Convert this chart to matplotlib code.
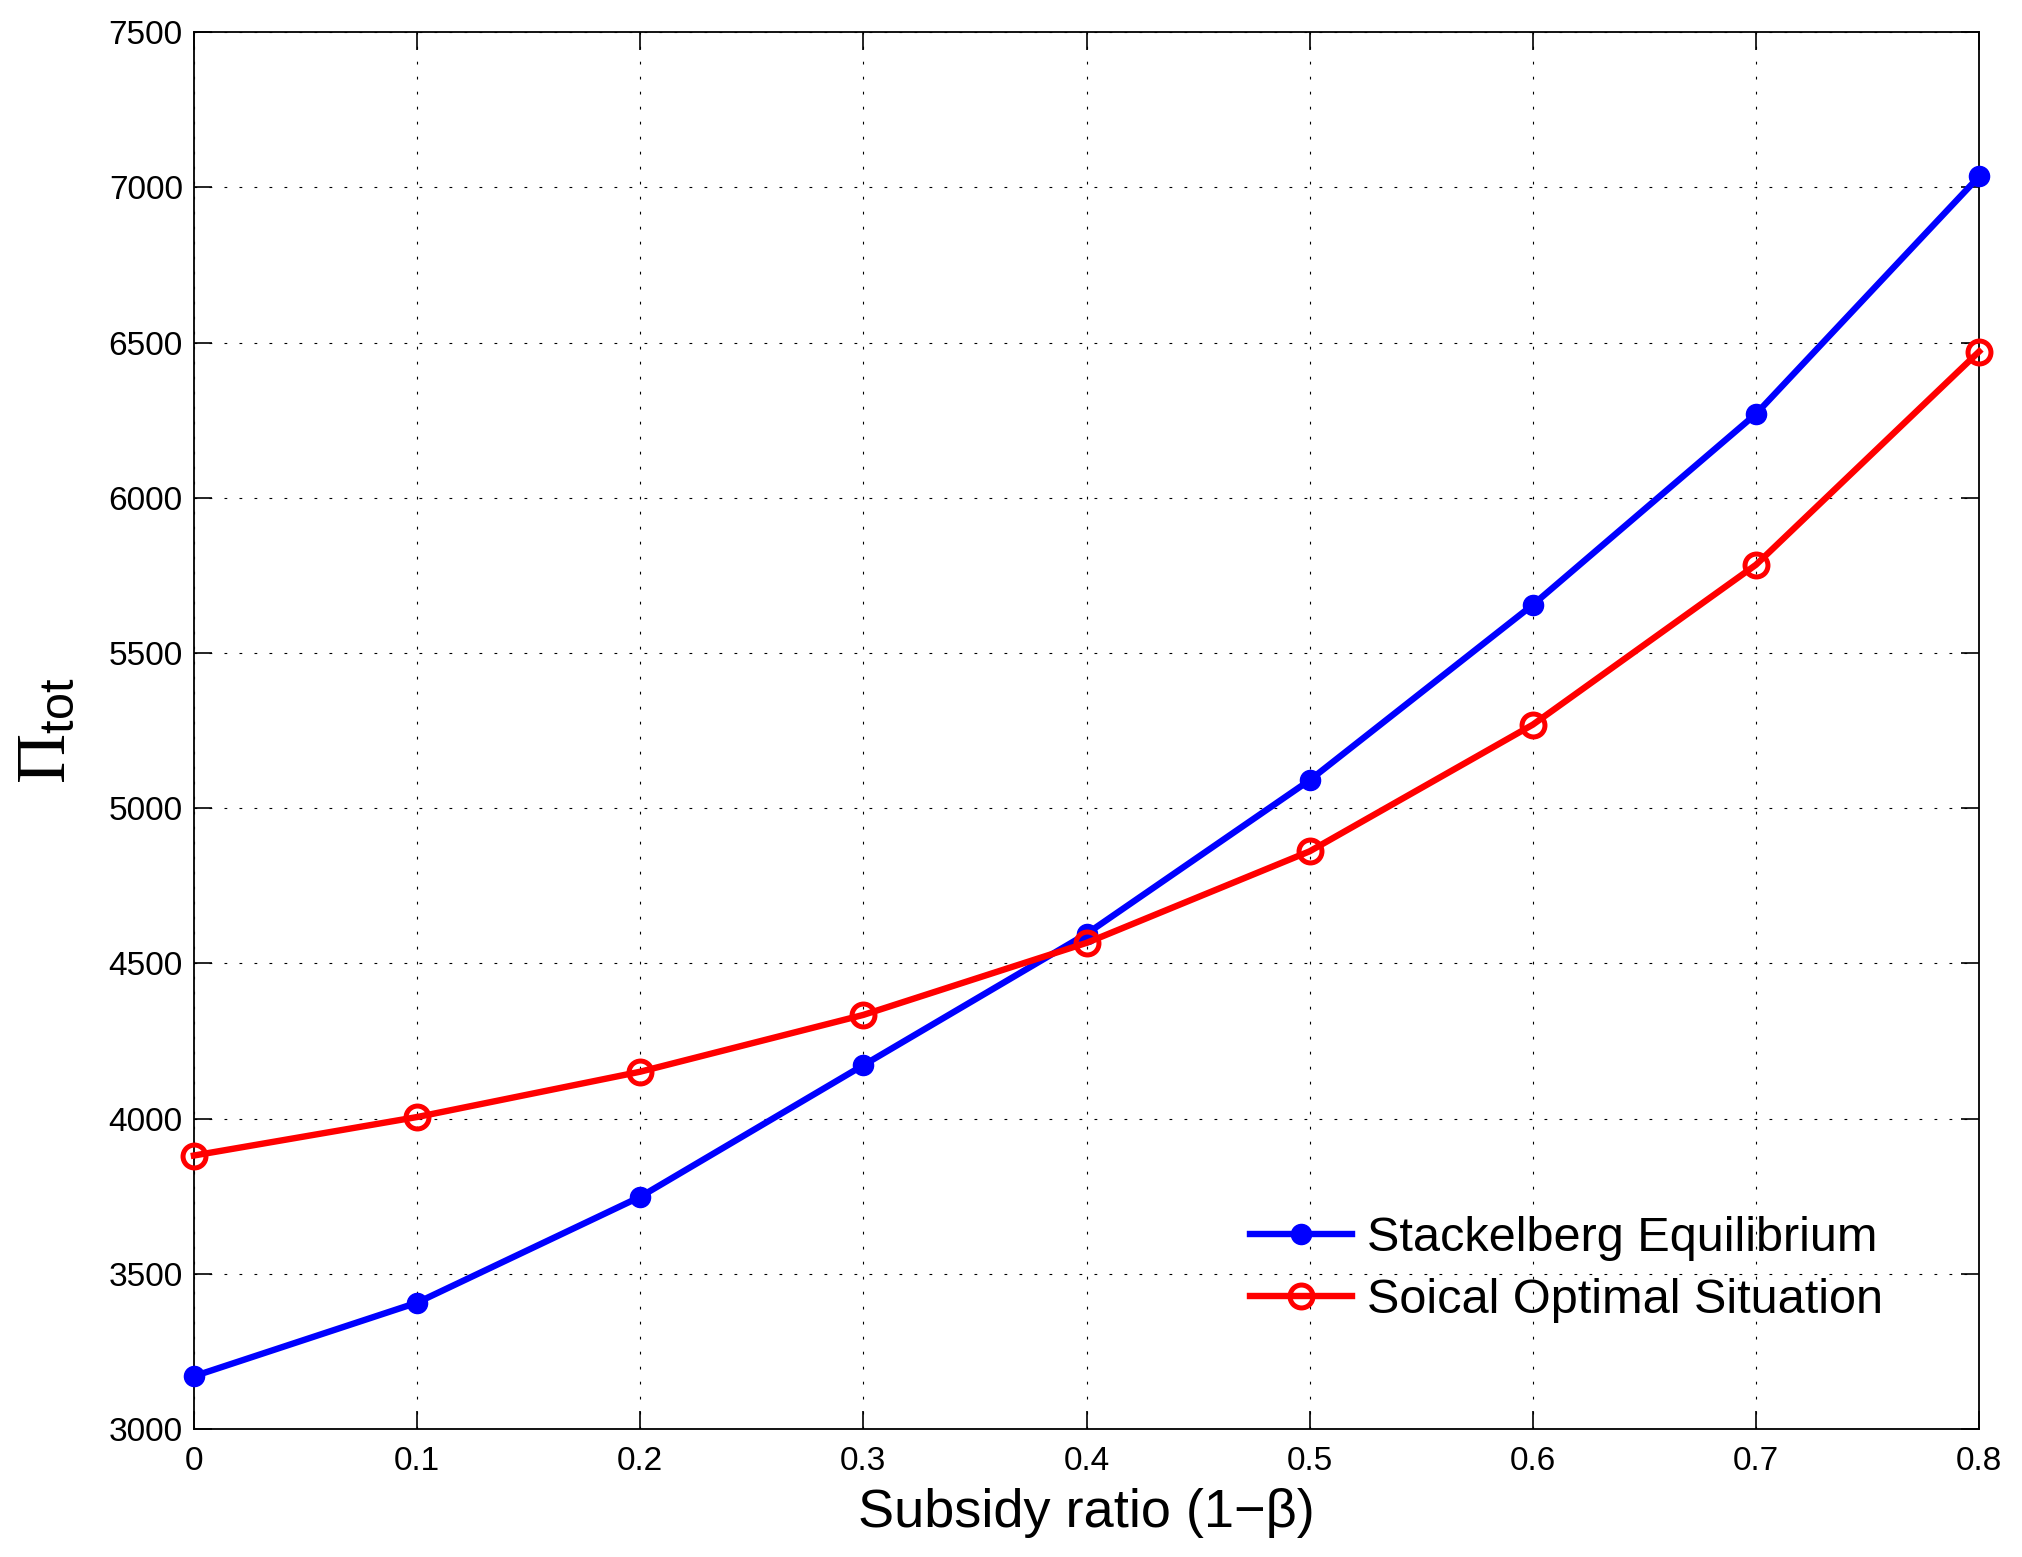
import matplotlib
matplotlib.use("Agg")
import matplotlib.pyplot as plt

subsidy_ratio = [0.0, 0.1, 0.2, 0.3, 0.4, 0.5, 0.6, 0.7, 0.8]
stackelberg = [3170, 3407, 3748, 4172, 4595, 5090, 5655, 6270, 7035]
social_opt = [3881, 4005, 4151, 4334, 4566, 4861, 5269, 5784, 6471]
labels = ["Stackelberg Equilibrium", "Soical Optimal Situation"]
xticks = [0, 0.1, 0.2, 0.3, 0.4, 0.5, 0.6, 0.7, 0.8]
xticklabels = ["0", "0.1", "0.2", "0.3", "0.4", "0.5", "0.6", "0.7", "0.8"]
yticks = [3000, 3500, 4000, 4500, 5000, 5500, 6000, 6500, 7000, 7500]

plt.rcParams['font.family'] = ['Liberation Sans', 'DejaVu Sans']
plt.rcParams['mathtext.fontset'] = 'custom'
plt.rcParams['mathtext.rm'] = 'Liberation Serif'
plt.rcParams['mathtext.sf'] = 'Liberation Sans'
plt.rcParams['mathtext.it'] = 'Liberation Serif:italic'

fig = plt.figure(figsize=(20.22, 15.57), dpi=100)
ax = fig.add_axes([0.0959, 0.0822, 0.8829, 0.8972])

ax.plot(subsidy_ratio, stackelberg, '-', color='#0000ff', lw=4.6,
        marker='o', ms=14.5, mfc='#0000ff', mec='#0000ff', label=labels[0],
        clip_on=False, zorder=3)
ax.plot(subsidy_ratio, social_opt, '-', color='#ff0000', lw=4.6,
        marker='o', ms=16.5, mfc='none', mec='#ff0000', mew=3.6, label=labels[1],
        clip_on=False, zorder=3)

ax.set_xlim(0, 0.8)
ax.set_ylim(3000, 7500)
ax.set_xticks(xticks)
ax.set_xticklabels(xticklabels)
ax.set_yticks(yticks)

ax.grid(True, color='black', lw=0.8, linestyle=(0, (2.5, 11)))
ax.tick_params(direction='in', length=13, width=1.2, labelsize=24,
               top=True, right=True)
ax.tick_params(axis='x', pad=12)
ax.tick_params(axis='y', pad=8)
for s in ax.spines.values():
    s.set_linewidth(1.3)

ax.set_xlabel("Subsidy ratio (1\u2212\u03b2)", fontsize=39, labelpad=8)
ax.set_ylabel(r"$\Pi_{\mathsf{tot}}$", fontsize=50, labelpad=22)

leg = ax.legend(loc='lower right', bbox_to_anchor=(0.9625, 0.055), frameon=False,
                fontsize=35, handlelength=2.1, handletextpad=0.3,
                labelspacing=0.35, borderaxespad=0.2)

fig.savefig("out.png", dpi=100)
